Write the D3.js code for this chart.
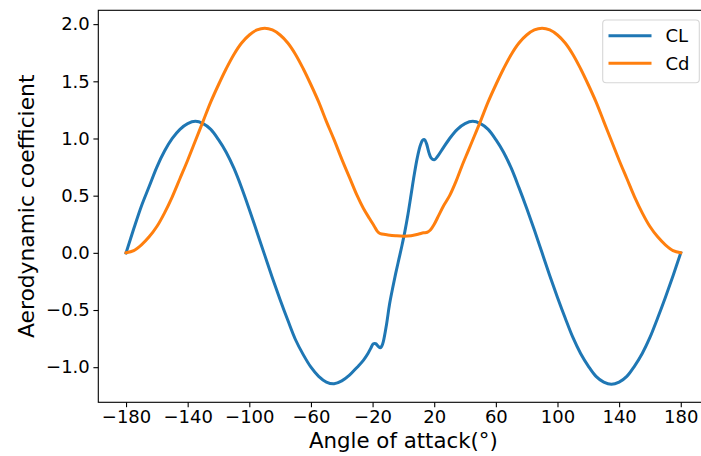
<!DOCTYPE html>
<html>
<head>
<meta charset="utf-8">
<script src="https://cdn.jsdelivr.net/npm/d3@7"></script>
<style>
  html, body { margin: 0; padding: 0; background: #fff; }
  svg { display: block; font-family: 'DejaVu Sans', sans-serif; }
</style>
</head>
<body>
<div id="chart"></div>
<script>
// angle of attack (deg) and coefficients
const clAngles = [-180, -175, -170, -165, -160, -155, -150, -145, -140, -135, -130, -125, -120, -115, -110, -105, -100, -95, -90, -85, -80, -75, -70, -65, -60, -55, -50, -45, -40, -35, -30, -26, -23, -21, -19.5, -18, -16.5, -15, -14, -13, -11, -9, -7, -5, -3, -1, 1, 3, 5, 7, 9, 11, 12.5, 13.7, 15, 16.5, 18, 20, 22, 25, 30, 35, 40, 45, 50, 55, 60, 65, 70, 75, 80, 85, 90, 95, 100, 105, 110, 115, 120, 125, 130, 135, 140, 145, 150, 155, 160, 165, 170, 175, 180];
const clValues = [0, 0.21, 0.41, 0.58, 0.75, 0.89, 1.0, 1.08, 1.13, 1.15, 1.13, 1.08, 0.99, 0.88, 0.74, 0.57, 0.38, 0.18, -0.02, -0.22, -0.41, -0.59, -0.76, -0.89, -1.0, -1.08, -1.13, -1.145, -1.12, -1.07, -1.0, -0.94, -0.88, -0.83, -0.795, -0.795, -0.815, -0.83, -0.815, -0.775, -0.63, -0.45, -0.31, -0.18, -0.06, 0.06, 0.19, 0.34, 0.51, 0.68, 0.83, 0.94, 0.985, 0.99, 0.955, 0.88, 0.83, 0.815, 0.84, 0.9, 1.0, 1.08, 1.13, 1.15, 1.13, 1.08, 0.99, 0.88, 0.74, 0.57, 0.39, 0.2, 0.0, -0.2, -0.39, -0.57, -0.74, -0.88, -0.99, -1.08, -1.13, -1.15, -1.13, -1.08, -0.99, -0.88, -0.74, -0.57, -0.39, -0.2, 0];

const cdAngles = [-180, -175, -170, -165, -160, -155, -150, -145, -140, -135, -130, -125, -120, -115, -110, -105, -100, -95, -90, -85, -80, -75, -70, -65, -60, -55, -50, -45, -40, -35, -30, -26, -22, -19, -17, -15.5, -14, -10, -5, 0, 5, 10, 13, 15.5, 17.5, 20, 23, 26, 30, 34, 38, 42, 46, 50, 55, 60, 65, 70, 75, 80, 85, 90, 95, 100, 105, 110, 115, 120, 125, 130, 135, 140, 145, 150, 155, 160, 165, 170, 175, 180];
const cdValues = [0, 0.02, 0.07, 0.14, 0.23, 0.35, 0.49, 0.65, 0.81, 0.98, 1.15, 1.32, 1.47, 1.61, 1.735, 1.835, 1.905, 1.95, 1.965, 1.95, 1.905, 1.835, 1.735, 1.61, 1.47, 1.32, 1.15, 0.99, 0.82, 0.66, 0.5, 0.39, 0.3, 0.235, 0.19, 0.172, 0.165, 0.157, 0.15, 0.146, 0.15, 0.165, 0.175, 0.18, 0.2, 0.25, 0.33, 0.41, 0.5, 0.62, 0.76, 0.89, 1.02, 1.15, 1.32, 1.47, 1.61, 1.735, 1.835, 1.905, 1.95, 1.965, 1.95, 1.905, 1.835, 1.735, 1.61, 1.47, 1.32, 1.15, 0.98, 0.81, 0.65, 0.49, 0.35, 0.23, 0.14, 0.07, 0.02, 0];

const xTicks = [-180, -140, -100, -60, -20, 20, 60, 100, 140, 180];
const yTicks = [-1.0, -0.5, 0.0, 0.5, 1.0, 1.5, 2.0];
const seriesNames = ['CL', 'Cd'];
const seriesColors = ['#1f77b4', '#ff7f0e'];

const width = 701;
const height = 456;
const margin = { top: 10.3, left: 98.3, bottom: 402.3 };
const plotRight = 708.5; // right spine sits just past the picture edge

const svg = d3
  .select('#chart')
  .append('svg')
  .attr('width', width)
  .attr('height', height);

const x = d3.scaleLinear().domain([-198, 198]).range([margin.left, plotRight]);
const y = d3.scaleLinear().domain([-1.307, 2.121]).range([margin.bottom, margin.top]);

const fmt = (v) => d3.format('.0f')(v).replace('-', '\u2212');
const fmtY = (v) => d3.format('.1f')(v).replace('-', '\u2212');

// x axis
const xAxis = svg
  .append('g')
  .attr('transform', `translate(0,${margin.bottom})`)
  .call(d3.axisBottom(x).tickValues(xTicks).tickSize(4.9).tickPadding(3.3).tickFormat(fmt));
xAxis.select('.domain').remove();
xAxis.selectAll('.tick line').attr('stroke', '#000').attr('stroke-width', 1.1);
xAxis.selectAll('.tick text').attr('fill', '#000').style('font-size', '18px').style('font-family', 'DejaVu Sans');

// y axis
const yAxis = svg
  .append('g')
  .attr('transform', `translate(${margin.left},0)`)
  .call(d3.axisLeft(y).tickValues(yTicks).tickSize(4.9).tickPadding(3.6).tickFormat(fmtY));
yAxis.select('.domain').remove();
yAxis.selectAll('.tick line').attr('stroke', '#000').attr('stroke-width', 1.1);
yAxis.selectAll('.tick text').attr('fill', '#000').style('font-size', '18px').style('font-family', 'DejaVu Sans');

// the curves
const line = d3
  .line()
  .x((d) => x(d[0]))
  .y((d) => y(d[1]))
  .curve(d3.curveCatmullRom.alpha(0.5));

const clData = clAngles.map((a, i) => [a, clValues[i]]);
const cdData = cdAngles.map((a, i) => [a, cdValues[i]]);

[clData, cdData].forEach((data, i) => {
  svg
    .append('path')
    .datum(data)
    .attr('fill', 'none')
    .attr('stroke', seriesColors[i])
    .attr('stroke-width', 3)
    .attr('stroke-linejoin', 'round')
    .attr('stroke-linecap', 'square')
    .attr('d', line);
});

// spines
svg
  .append('rect')
  .attr('x', margin.left)
  .attr('y', margin.top)
  .attr('width', plotRight - margin.left)
  .attr('height', margin.bottom - margin.top)
  .attr('fill', 'none')
  .attr('stroke', '#000')
  .attr('stroke-width', 1.1);

// axis labels
svg
  .append('text')
  .attr('x', x(0))
  .attr('y', 447.5)
  .attr('text-anchor', 'middle')
  .style('font-size', '21.3px')
  .text('Angle of attack(°)');

svg
  .append('text')
  .attr('transform', `translate(33.5,${(margin.top + margin.bottom) / 2}) rotate(-90)`)
  .attr('text-anchor', 'middle')
  .style('font-size', '21.8px')
  .text('Aerodynamic coefficient');

// legend
const legend = svg.append('g');
legend
  .append('rect')
  .attr('x', 602.7)
  .attr('y', 20)
  .attr('width', 96.6)
  .attr('height', 62.7)
  .attr('rx', 3.5)
  .attr('fill', '#fff')
  .attr('fill-opacity', 0.8)
  .attr('stroke', '#d6d6d6')
  .attr('stroke-width', 1.1);

seriesNames.forEach((name, i) => {
  const ly = 35.7 + i * 27.6;
  legend
    .append('line')
    .attr('x1', 608.5)
    .attr('x2', 651.5)
    .attr('y1', ly)
    .attr('y2', ly)
    .attr('stroke', seriesColors[i])
    .attr('stroke-width', 3);
  legend
    .append('text')
    .attr('x', 665.5)
    .attr('y', ly + 6.6)
    .style('font-size', '18px')
    .text(name);
});
</script>
</body>
</html>
